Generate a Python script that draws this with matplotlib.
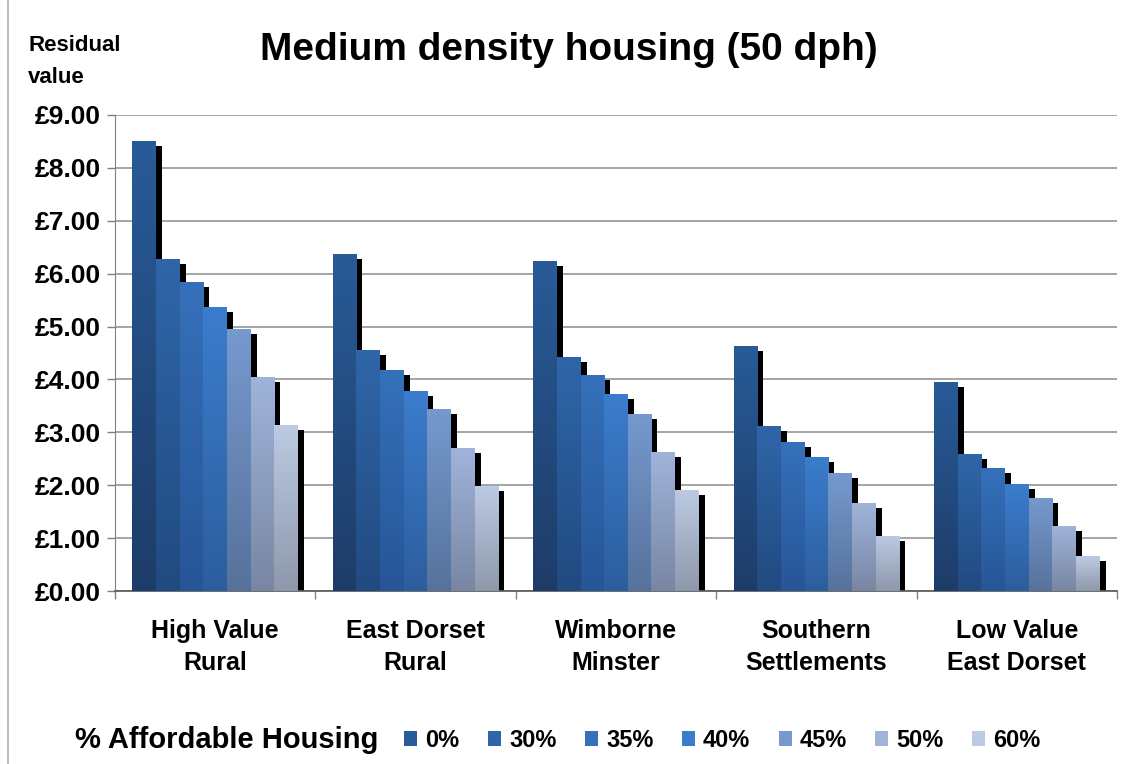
import numpy as np
import matplotlib

matplotlib.use('Agg')
import matplotlib.pyplot as plt
from matplotlib.colors import LinearSegmentedColormap
from matplotlib.patches import Rectangle
from matplotlib.transforms import ScaledTranslation
from matplotlib.lines import Line2D

plt.rcParams['font.family'] = ['Liberation Sans', 'DejaVu Sans']
plt.rcParams['font.weight'] = 'bold'

areas = ['High Value\nRural', 'East Dorset\nRural', 'Wimborne\nMinster',
         'Southern\nSettlements', 'Low Value\nEast Dorset']
shares = ['0%', '30%', '35%', '40%', '45%', '50%', '60%']

# residual value per share, one list per area
high_value_rural = [8.50, 6.27, 5.84, 5.37, 4.95, 4.05, 3.14]
east_dorset_rural = [6.37, 4.56, 4.18, 3.78, 3.44, 2.70, 1.98]
wimborne_minster = [6.23, 4.43, 4.08, 3.72, 3.35, 2.63, 1.91]
southern_settlements = [4.63, 3.12, 2.82, 2.53, 2.23, 1.66, 1.04]
low_value_east_dorset = [3.95, 2.59, 2.33, 2.02, 1.76, 1.23, 0.66]
values = np.array([high_value_rural, east_dorset_rural, wimborne_minster,
                   southern_settlements, low_value_east_dorset])

yticks = np.arange(0, 10, 1)
ytick_labels = ['£%.2f' % v for v in yticks]

# (top colour, bottom colour) for each share
grads = [('#285b98', '#1e3c68'),
         ('#2f66a9', '#214a80'),
         ('#3571ba', '#275597'),
         ('#3b7dcd', '#2c5e9e'),
         ('#7699ce', '#56729c'),
         ('#a0b4da', '#7886a3'),
         ('#bccae3', '#8e98ab')]

fig = plt.figure(figsize=(11.34, 7.64), dpi=100)
ax = fig.add_axes([0.1014, 0.2264, 0.8836, 0.6231])

n = len(shares)
bw = 0.118
x = np.arange(len(areas))
shadow_tr = ax.transData + ScaledTranslation(6 / 100, -5 / 100, fig.dpi_scale_trans)

grad = np.linspace(0, 1, 256).reshape(-1, 1)
for i in range(n):
    pos = x + 0.5 + (i - (n - 1) / 2) * bw
    ax.bar(pos, values[:, i], bw, color='black', zorder=2, transform=shadow_tr)
    bars = ax.bar(pos, values[:, i], bw, color=grads[i][0], zorder=3, linewidth=0)
    cmap = LinearSegmentedColormap.from_list('g%d' % i, [grads[i][1], grads[i][0]])
    for r in bars:
        bx, by = r.get_x(), r.get_y()
        im = ax.imshow(grad, cmap=cmap, origin='lower', aspect='auto', zorder=3,
                       extent=(bx, bx + r.get_width(), by, by + r.get_height()))
        im.set_clip_path(r)
        r.set_facecolor('none')

ax.set_xlim(0, len(areas))
ax.set_ylim(0, 9)
ax.set_yticks(yticks)
ax.set_yticklabels(ytick_labels, fontsize=19, fontweight='bold')
ax.set_xticks(np.arange(len(areas) + 1))
ax.set_xticklabels([])
ax.set_xticks(x + 0.5, minor=True)
ax.set_xticklabels(areas, minor=True, fontsize=18, fontweight='bold', linespacing=1.45)
ax.tick_params(axis='x', which='minor', length=0, pad=20)
ax.tick_params(axis='x', which='major', length=6, color='#808080', width=1)
ax.tick_params(axis='y', length=6, color='#808080', width=1, pad=4)
ax.yaxis.grid(True, color='#8c8c8c', linewidth=1.1, zorder=0)
ax.set_axisbelow(True)
for s in ['top', 'right']:
    ax.spines[s].set_visible(False)
ax.spines['left'].set_color('#808080')
ax.spines['bottom'].set_color('#606060')
ax.spines['bottom'].set_linewidth(1.3)

fig.text(0.502, 0.935, 'Medium density housing (50 dph)', ha='center', va='center',
         fontsize=28, fontweight='bold')
fig.text(0.025, 0.941, 'Residual', ha='left', va='center', fontsize=16, fontweight='bold')
fig.text(0.025, 0.899, 'value', ha='left', va='center', fontsize=16, fontweight='bold')

fig.text(0.066, 0.031, '% Affordable Housing', ha='left', va='center',
         fontsize=21, fontweight='bold')
handles = [Rectangle((0, 0), 1, 1, facecolor=g[0], edgecolor='none') for g in grads]
fig.legend(handles, shares, ncol=n, loc='center left', bbox_to_anchor=(0.346, 0.031),
           frameon=False, handlelength=0.55, handleheight=0.55, handletextpad=0.35,
           columnspacing=1.2, borderpad=0, prop={'size': 17, 'weight': 'bold'})

fig.add_artist(Line2D([0.007, 0.007], [0, 1], color='#b0b0b0', linewidth=1.2,
                      transform=fig.transFigure))

fig.savefig('out.png', dpi=100)
